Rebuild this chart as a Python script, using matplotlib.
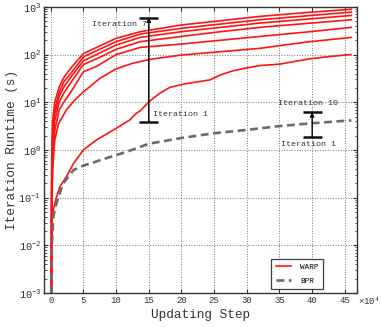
import numpy as np
import matplotlib
matplotlib.use("Agg")
import matplotlib.pyplot as plt
from matplotlib.ticker import LogLocator, LogFormatterMathtext

plt.rcParams['font.family'] = ['Liberation Mono', 'DejaVu Sans Mono']
plt.rcParams['mathtext.fontset'] = 'custom'
plt.rcParams['mathtext.rm'] = 'Liberation Mono'
plt.rcParams['mathtext.it'] = 'Liberation Mono:italic'

u_top = [0.1, 0.15, 0.3, 0.6, 1.3, 2, 3.1, 5, 7, 10, 13.7, 20, 26, 32, 39, 46]
warp_log = {
    7: [-3, -0.2, 0.6, 1.0, 1.32, 1.52, 1.72, 2.02, 2.15, 2.34, 2.48, 2.62, 2.71, 2.80, 2.88, 2.95],
    6: [-3, -0.5, 0.45, 0.85, 1.21, 1.43, 1.61, 1.95, 2.08, 2.27, 2.43, 2.55, 2.64, 2.73, 2.81, 2.89],
    5: [-3, -0.7, 0.3, 0.75, 1.13, 1.32, 1.53, 1.87, 2.00, 2.20, 2.36, 2.48, 2.57, 2.66, 2.74, 2.82],
    4: [-3, -0.9, 0.1, 0.6, 1.01, 1.19, 1.42, 1.79, 1.91, 2.11, 2.27, 2.38, 2.48, 2.57, 2.65, 2.73],
    3: [-3, -1.1, -0.1, 0.4, 0.84, 1.00, 1.22, 1.64, 1.75, 2.00, 2.15, 2.22, 2.30, 2.38, 2.47, 2.57],
}
u_it2 = [0.1, 0.15, 0.3, 0.6, 1.2, 2.4, 3.7, 5, 5.75, 7.5, 10, 12.6, 15.2, 20, 26, 32, 39, 46]
it2_log = [-3, -1.4, -0.4, 0.2, 0.55, 0.84, 1.05, 1.22, 1.30, 1.50, 1.70, 1.82, 1.90, 1.99, 2.06, 2.13, 2.26, 2.36]
u_it1 = [0.1, 0.15, 0.4, 0.9, 1.4, 2.4, 3.5, 5, 7, 10.1, 12.1, 13.1, 13.7, 15.2, 16.7, 18.2, 20.3,
         24.4, 25.9, 27.9, 30, 32, 35.1, 37.1, 39.6, 42.7, 45.9]
it1_log = [-3, -1.5, -1.26, -0.98, -0.77, -0.56, -0.28, 0.0, 0.21, 0.46, 0.63, 0.77, 0.82, 1.03, 1.19,
           1.31, 1.38, 1.47, 1.57, 1.66, 1.72, 1.77, 1.80, 1.85, 1.91, 1.96, 2.0]
u_bpr = [0.12, 0.18, 0.4, 0.7, 1.2, 1.9, 3.5, 5, 8.6, 11.6, 15, 20, 25, 30, 35, 40, 46]
bpr_log = [-3, -2.0, -1.4, -1.2, -0.98, -0.70, -0.42, -0.33, -0.17, -0.04, 0.13, 0.25, 0.35, 0.42,
           0.50, 0.56, 0.62]

# "Iteration 1 -> N" range markers: x, low, high (seconds)
bar_x = [15, 40]
bar_lo = [3.93, 1.9]
bar_hi = [597, 6.2]

fig = plt.figure(figsize=(3.81, 3.27), dpi=100)
ax = fig.add_axes([0.116, 0.104, 0.820, 0.875])

red = '#ff1414'
first = True
for k in [7, 6, 5, 4, 3]:
    ax.plot(u_top, 10 ** np.array(warp_log[k]), color=red, lw=1.2,
            label='WARP' if first else None)
    first = False
ax.plot(u_it2, 10 ** np.array(it2_log), color=red, lw=1.2)
ax.plot(u_it1, 10 ** np.array(it1_log), color=red, lw=1.2)
ax.plot(u_bpr, 10 ** np.array(bpr_log), color='#6b6b6b', lw=1.9, ls=(0, (3, 1.7)), label='BPR')

for x, lo, hi in zip(bar_x, bar_lo, bar_hi):
    ax.annotate('', xy=(x, hi), xytext=(x, lo),
                arrowprops=dict(arrowstyle='-|>', color='k', lw=1.0, mutation_scale=6,
                                shrinkA=0, shrinkB=0))
    ax.plot([x - 1.45, x + 1.45], [hi, hi], color='#111', lw=1.8, solid_capstyle='butt')
    ax.plot([x - 1.45, x + 1.45], [lo, lo], color='#111', lw=1.8, solid_capstyle='butt')

tc = '#333333'
ax.text(14.8, 420, 'Iteration 7', fontsize=6, ha='right', va='center', color=tc)
ax.text(15.7, 5.6, 'Iteration 1', fontsize=6, ha='left', va='center', color=tc)
ax.text(39.4, 9.6, 'Iteration 10', fontsize=6, ha='center', va='center', color=tc)
ax.text(39.4, 1.28, 'Iteration 1', fontsize=6, ha='center', va='center', color=tc)

ax.set_yscale('log')
ax.set_ylim(1e-3, 1e3)
ax.set_xlim(-1, 46.8)
ax.set_xticks(np.arange(0, 46, 5))
ax.yaxis.set_major_locator(LogLocator(base=10, numticks=10))
ax.yaxis.set_minor_locator(LogLocator(base=10, subs=np.arange(2, 10), numticks=20))
ax.yaxis.set_major_formatter(LogFormatterMathtext())

ax.grid(True, which='major', ls=':', color='#777777', lw=0.7)
ax.tick_params(which='both', direction='in', top=True, right=True, colors='#333333')
ax.tick_params(which='major', length=3)
ax.tick_params(which='minor', length=1.8)
ax.tick_params(axis='x', labelsize=6.5, pad=2)
ax.tick_params(axis='y', labelsize=7.5, pad=2)
for s in ax.spines.values():
    s.set_color('#333333')
    s.set_linewidth(1.0)

ax.text(1.004, -0.008, r'$\times10^4$', transform=ax.transAxes, fontsize=6.5,
        ha='left', va='top', color=tc)
ax.set_xlabel('Updating Step', fontsize=9.2, color=tc, labelpad=3)
ax.set_ylabel('Iteration Runtime (s)', fontsize=9.2, color=tc, labelpad=0)

leg = ax.legend(loc='lower right', bbox_to_anchor=(0.905, 0.0), fontsize=5.5,
                frameon=True, fancybox=False, edgecolor='#111111', handlelength=2.0,
                borderpad=0.6, labelspacing=0.8, handletextpad=1.2)
leg.get_frame().set_linewidth(0.9)

fig.savefig('out.png', dpi=100)
